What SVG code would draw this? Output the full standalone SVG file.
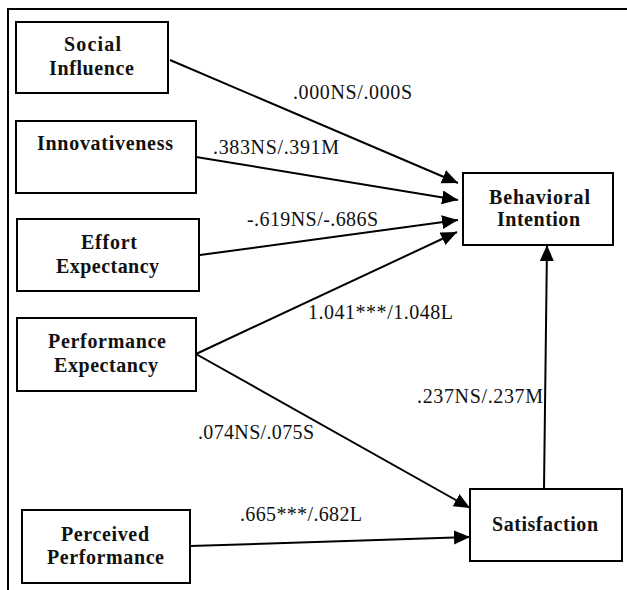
<svg xmlns="http://www.w3.org/2000/svg" width="627" height="590" viewBox="0 0 627 590">
  <defs>
    <marker id="arrow" markerUnits="userSpaceOnUse" markerWidth="18" markerHeight="16" refX="16" refY="7" orient="auto">
      <path d="M0,0 L16,7 L0,14 z" fill="#000"/>
    </marker>
    <style>
      .box { fill: #fff; stroke: #000; stroke-width: 2; }
      .name { font-family: "Liberation Serif", "Times New Roman", serif; font-weight: bold; font-size: 20px; fill: #111; }
      .edge { stroke: #000; stroke-width: 2; fill: none; marker-end: url(#arrow); }
      .coef { font-family: "Liberation Serif", "Times New Roman", serif; font-size: 20px; fill: #111; }
    </style>
  </defs>

  <rect width="627" height="590" fill="#fff"/>
  <!-- outer frame (right and bottom edges fall outside the canvas) -->
  <rect x="8" y="9" width="640" height="620" fill="none" stroke="#000" stroke-width="2"/>

  <g id="connectors">
    <line class="edge" x1="170" y1="60" x2="458" y2="183"/>
    <line class="edge" x1="196" y1="157" x2="458" y2="200"/>
    <line class="edge" x1="200" y1="255" x2="458" y2="220"/>
    <line class="edge" x1="196" y1="354" x2="457" y2="232"/>
    <line class="edge" x1="196" y1="354" x2="470" y2="508"/>
    <line class="edge" x1="190" y1="546" x2="470" y2="537"/>
    <line class="edge" x1="544" y1="489" x2="547" y2="245"/>
  </g>

  <g id="coefficients">
    <text class="coef" x="293" y="99" textLength="119" lengthAdjust="spacing">.000NS/.000S</text>
    <text class="coef" x="213" y="154" textLength="126" lengthAdjust="spacing">.383NS/.391M</text>
    <text class="coef" x="247" y="226" textLength="131" lengthAdjust="spacing">-.619NS/-.686S</text>
    <text class="coef" x="308" y="319" textLength="145" lengthAdjust="spacing">1.041***/1.048L</text>
    <text class="coef" x="417" y="403" textLength="126" lengthAdjust="spacing">.237NS/.237M</text>
    <text class="coef" x="198" y="439" textLength="116" lengthAdjust="spacing">.074NS/.075S</text>
    <text class="coef" x="240" y="521" textLength="122" lengthAdjust="spacing">.665***/.682L</text>
  </g>

  <g id="social-influence">
    <rect class="box" x="16" y="22" width="152" height="71"/>
    <text class="name" x="64" y="51" textLength="57" lengthAdjust="spacing">Social</text>
    <text class="name" x="49" y="75" textLength="85" lengthAdjust="spacing">Influence</text>
  </g>

  <g id="innovativeness">
    <rect class="box" x="16" y="121" width="180" height="72"/>
    <text class="name" x="37" y="150" textLength="136" lengthAdjust="spacing">Innovativeness</text>
  </g>

  <g id="effort-expectancy">
    <rect class="box" x="17" y="219" width="182" height="72"/>
    <text class="name" x="81" y="249" textLength="56" lengthAdjust="spacing">Effort</text>
    <text class="name" x="56" y="273" textLength="103" lengthAdjust="spacing">Expectancy</text>
  </g>

  <g id="performance-expectancy">
    <rect class="box" x="17" y="318" width="179" height="73"/>
    <text class="name" x="48" y="348" textLength="118" lengthAdjust="spacing">Performance</text>
    <text class="name" x="54" y="372" textLength="104" lengthAdjust="spacing">Expectancy</text>
  </g>

  <g id="perceived-performance">
    <rect class="box" x="22" y="510" width="168" height="73"/>
    <text class="name" x="61" y="541" textLength="88" lengthAdjust="spacing">Perceived</text>
    <text class="name" x="47" y="564" textLength="117" lengthAdjust="spacing">Performance</text>
  </g>

  <g id="behavioral-intention">
    <rect class="box" x="463" y="173" width="150" height="72"/>
    <text class="name" x="489" y="204" textLength="101" lengthAdjust="spacing">Behavioral</text>
    <text class="name" x="497" y="226" textLength="83" lengthAdjust="spacing">Intention</text>
  </g>

  <g id="satisfaction">
    <rect class="box" x="470" y="489" width="152" height="72"/>
    <text class="name" x="492" y="531" textLength="106" lengthAdjust="spacing">Satisfaction</text>
  </g>
</svg>
